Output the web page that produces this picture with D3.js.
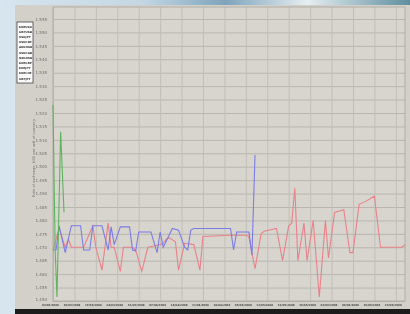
<!DOCTYPE html>
<html>
<head>
<meta charset="utf-8">
<script src="https://cdn.jsdelivr.net/npm/d3@7"></script>
<style>
  body { margin: 0; background: #d6e5ee; }
  svg { display: block; }
</style>
</head>
<body>
<script>
// values (x = day since first tick, y = rate)
var yTicks = [1.450, 1.455, 1.460, 1.465, 1.470, 1.475, 1.480, 1.485, 1.490, 1.495, 1.500,
              1.505, 1.510, 1.515, 1.520, 1.525, 1.530, 1.535, 1.540, 1.545, 1.550, 1.555];

var xTickDays = [0, 7, 14, 21, 28, 35, 42, 49, 56, 63, 70, 77, 84, 91, 98, 105, 112];
var xTickLabels = ["03/03/2008", "10/03/2008", "17/03/2008", "24/03/2008", "31/03/2008",
                   "07/04/2008", "14/04/2008", "21/04/2008", "28/04/2008", "05/05/2008",
                   "12/05/2008", "19/05/2008", "26/05/2008", "02/06/2008", "09/06/2008",
                   "16/06/2008", "23/06/2008"];

var legendLabels = ["EURUSD", "GBPUSD", "USDJPY", "USDCHF", "AUDUSD", "USDCAD",
                    "NZDUSD", "EURGBP", "EURJPY", "EURCHF", "GBPJPY"];

var greenSeries = [[0, 1.523], [0.7, 1.469], [1.3, 1.4515], [2.5, 1.513], [3.6, 1.483]];

var blueSeries = [
  [0, 1.469], [1, 1.469], [2, 1.478], [4, 1.468], [6, 1.478], [9, 1.478], [10, 1.469],
  [12, 1.469], [13, 1.478], [16, 1.478], [18, 1.469], [19, 1.4776], [20, 1.471],
  [22, 1.4776], [25, 1.4776], [26, 1.469], [27, 1.4686], [28, 1.4757], [32, 1.4757],
  [34, 1.468], [35, 1.4757], [36, 1.470], [39, 1.477], [41, 1.4764], [43, 1.470],
  [44, 1.469], [45, 1.4764], [46, 1.477], [58, 1.477], [59, 1.469], [60, 1.4757],
  [64, 1.4757], [65, 1.4671], [66, 1.5044]];

var redSeries = [
  [0, 1.469], [2, 1.477], [4, 1.470], [5, 1.473], [6, 1.470], [10, 1.470], [13, 1.478],
  [14, 1.470], [16, 1.4615], [18, 1.479], [19, 1.470], [20, 1.470], [22, 1.461],
  [23, 1.470], [26, 1.470], [27, 1.469], [29, 1.461], [31, 1.470], [33, 1.4705],
  [35, 1.471], [36, 1.4715], [37, 1.473], [38, 1.4735], [40, 1.472], [41, 1.4615],
  [43, 1.4715], [46, 1.471], [48, 1.4615], [49, 1.474], [58, 1.4745], [63, 1.4745],
  [64, 1.474], [66, 1.462], [68, 1.475], [69, 1.476], [73, 1.477], [75, 1.465],
  [77, 1.478], [78, 1.479], [79, 1.492], [80, 1.465], [82, 1.479], [83, 1.465],
  [85, 1.480], [87, 1.4515], [89, 1.480], [90, 1.466], [92, 1.483], [95, 1.484],
  [97, 1.468], [98, 1.468], [100, 1.486], [102, 1.487], [105, 1.489], [107, 1.470],
  [114, 1.470], [115, 1.471]];

var W = 410, H = 314;
var plotLeft = 53, plotRight = 405, plotTop = 7, plotBottom = 301;

var svg = d3.select("body").append("svg")
            .attr("width", W)
            .attr("height", H);

var defs = svg.append("defs");
var sky = defs.append("linearGradient").attr("id", "sky");
sky.append("stop").attr("offset", "0%").attr("stop-color", "#d6e5ee");
sky.append("stop").attr("offset", "35%").attr("stop-color", "#c3d7e3");
sky.append("stop").attr("offset", "55%").attr("stop-color", "#7ea4bb");
sky.append("stop").attr("offset", "75%").attr("stop-color", "#e6eef1");
sky.append("stop").attr("offset", "100%").attr("stop-color", "#5f8e9e");

defs.append("filter").attr("id", "soft")
    .append("feGaussianBlur").attr("stdDeviation", 0.45);

// backdrop
svg.append("rect").attr("x", 0).attr("y", 0).attr("width", W).attr("height", 8)
   .style("fill", "url(#sky)");
svg.append("rect").attr("x", 15).attr("y", 5).attr("width", W - 15).attr("height", 304)
   .style("fill", "#d3d0c9");
svg.append("rect").attr("x", 15).attr("y", 309).attr("width", W - 15).attr("height", 5)
   .style("fill", "#1c1c1c");

var g = svg.append("g").attr("filter", "url(#soft)");

g.append("rect")
 .attr("x", plotLeft).attr("y", plotTop)
 .attr("width", plotRight - plotLeft).attr("height", plotBottom - plotTop)
 .style("fill", "#d8d5ce");

var x = d3.scaleLinear().domain([0, 115]).range([plotLeft, plotRight]);
var y = d3.scaleLinear().domain([1.450, 1.555]).range([plotBottom, 19]);

// y axis with grid
var yAxis = g.append("g")
  .attr("transform", "translate(" + plotLeft + ",0)")
  .call(d3.axisLeft(y).tickValues(yTicks).tickFormat(d3.format(".3f"))
          .tickSize(-(plotRight - plotLeft)).tickPadding(6));
yAxis.select(".domain").remove();
yAxis.selectAll("line").style("stroke", "#b9b6ae");
yAxis.selectAll("text").style("font", "4px 'DejaVu Sans'").style("fill", "#6e6e6e")
     .attr("dy", function (d) { return d === yTicks[0] ? "-0.1em" : "0.32em"; });

// x axis with grid
var xAxis = g.append("g")
  .attr("transform", "translate(0," + plotBottom + ")")
  .call(d3.axisBottom(x).tickValues(xTickDays)
          .tickFormat(function (d, i) { return xTickLabels[i]; })
          .tickSize(-(plotBottom - plotTop)).tickPadding(3.5));
xAxis.select(".domain").remove();
xAxis.selectAll("line").style("stroke", "#c2bfb8");
xAxis.selectAll("text").attr("dx", -3)
     .style("font", "bold 2.7px 'DejaVu Sans'").style("fill", "#4a4a4a");

// frame
g.append("rect")
 .attr("x", plotLeft).attr("y", plotTop)
 .attr("width", plotRight - plotLeft).attr("height", plotBottom - plotTop)
 .style("fill", "none").style("stroke", "#a8a59e").style("stroke-width", 0.8);

// y title
g.append("text")
 .attr("transform", "translate(35,158) rotate(-90)")
 .attr("text-anchor", "middle")
 .style("font", "3.6px 'DejaVu Sans'").style("fill", "#777")
 .text("Rate of exchange, USD per unit of currency");

// legend
g.append("rect").attr("x", 17).attr("y", 22).attr("width", 16).attr("height", 61)
 .style("fill", "#fafafa").style("stroke", "#444").style("stroke-width", 0.8);
g.selectAll(".leg").data(legendLabels).enter().append("text")
 .attr("class", "leg")
 .attr("x", 19)
 .attr("y", function (d, i) { return 27.5 + i * 5.2; })
 .style("font", "bold 2.8px 'DejaVu Sans'").style("fill", "#333")
 .text(function (d) { return d; });

var line = d3.line()
             .x(function (d) { return x(d[0]); })
             .y(function (d) { return y(d[1]); });

var seriesList = [
  { data: redSeries, color: "#e8828a" },
  { data: blueSeries, color: "#7c7ce6" },
  { data: greenSeries, color: "#5fb35f" }];

g.selectAll(".series").data(seriesList).enter().append("path")
 .attr("class", "series")
 .attr("d", function (d) { return line(d.data); })
 .style("fill", "none")
 .style("stroke", function (d) { return d.color; })
 .style("stroke-width", 1.1);
</script>
</body>
</html>
